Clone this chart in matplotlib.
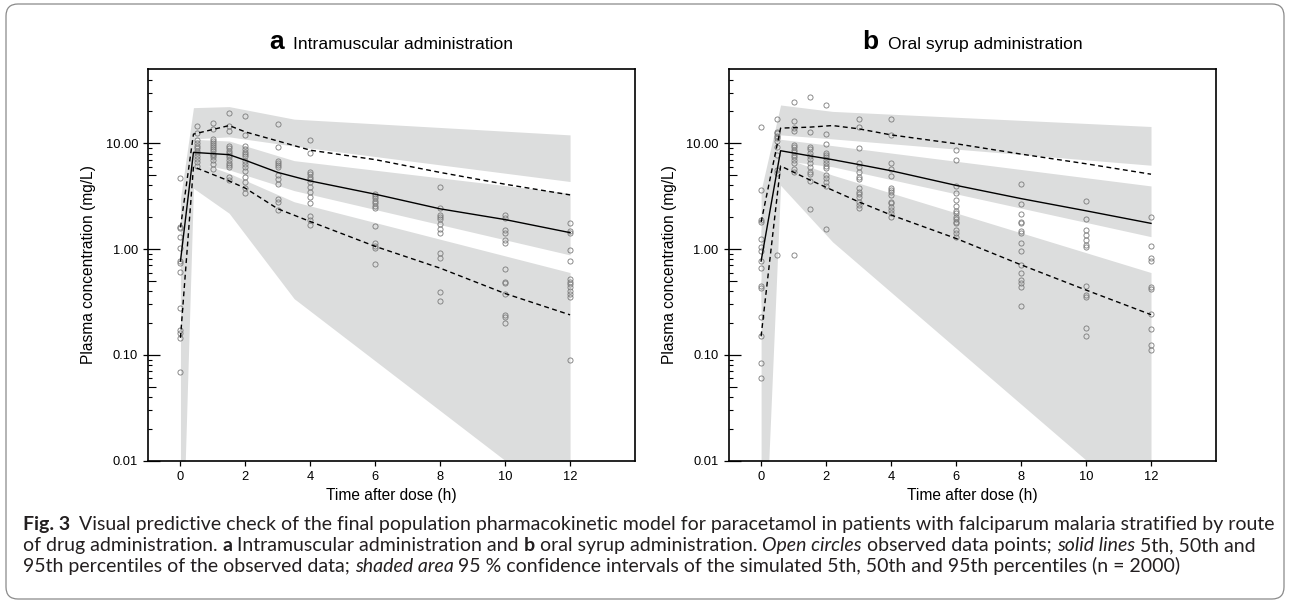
import numpy as np
import matplotlib.pyplot as plt
from matplotlib.patches import FancyBboxPatch
from matplotlib.transforms import IdentityTransform
from matplotlib.ticker import FixedLocator, NullFormatter, FuncFormatter

plt.rcParams['font.family'] = ['Liberation Sans', 'DejaVu Sans']

# ---------------- data: observed concentrations (mg/L) ----------------
obs_times = [0, 0.5, 1, 1.5, 2, 3, 4, 6, 8, 10, 12]

im_obs = [
    [4.74, 1.63, 1.57, 1.31, 1.03, 0.77, 0.745, 0.61, 0.276, 0.172, 0.16, 0.144, 0.069],
    [14.7, 12.6, 10.75, 10.0, 9.4, 8.97, 8.5, 8.05, 7.6, 7.16, 6.7, 6.1],
    [15.7, 13.6, 11.0, 10.5, 10.0, 9.6, 9.2, 8.8, 8.4, 8.0, 7.7, 7.4, 6.95, 6.4, 5.76],
    [19.5, 14.7, 13.2, 9.4, 9.0, 8.5, 8.16, 7.76, 7.37, 6.95, 6.57, 6.24, 5.93, 4.84, 4.5],
    [18.1, 12.0, 9.5, 8.9, 8.3, 7.9, 7.5, 6.86, 6.4, 5.93, 5.5, 4.84, 4.35, 3.76, 3.37],
    [15.2, 9.2, 6.86, 6.47, 6.2, 5.93, 5.0, 4.57, 4.13, 2.96, 2.8, 2.34],
    [10.75, 8.16, 5.32, 5.1, 4.84, 4.6, 4.35, 3.9, 3.5, 3.1, 2.75, 2.07, 1.89, 1.69],
    [3.33, 3.18, 3.02, 2.87, 2.71, 2.56, 2.42, 1.67, 1.15, 1.06, 1.02, 0.72],
    [3.9, 2.46, 2.1, 2.03, 1.91, 1.73, 1.54, 1.43, 0.91, 0.82, 0.39, 0.325],
    [2.1, 1.95, 1.5, 1.41, 1.22, 1.15, 0.65, 0.49, 0.48, 0.38, 0.24, 0.23, 0.20],
    [1.75, 1.49, 1.43, 0.97, 0.77, 0.52, 0.49, 0.47, 0.435, 0.40, 0.38, 0.35, 0.089],
]

oral_obs = [
    [14.4, 3.62, 1.89, 1.82, 1.24, 1.04, 0.96, 0.77, 0.66, 0.45, 0.43, 0.227, 0.151, 0.083, 0.06],
    [16.9, 12.9, 12.4, 11.7, 11.1, 10.4, 9.2, 7.76, 5.6, 5.2, 0.88],
    [24.6, 16.2, 14.0, 13.1, 9.6, 9.2, 8.6, 8.2, 7.76, 7.37, 6.96, 6.47, 5.73, 5.3, 0.87],
    [27.6, 12.9, 9.2, 8.8, 8.16, 7.6, 7.06, 6.47, 5.93, 5.4, 5.1, 4.4, 2.38],
    [22.9, 12.3, 9.86, 8.16, 7.76, 7.37, 6.96, 6.47, 6.1, 5.8, 5.0, 4.68, 4.35, 3.95, 1.54],
    [16.9, 14.4, 8.97, 6.47, 5.93, 5.3, 4.84, 4.57, 3.76, 3.5, 3.33, 3.13, 2.8, 2.6, 2.42],
    [16.9, 11.9, 6.57, 5.73, 4.9, 3.76, 3.62, 3.5, 3.25, 2.8, 2.71, 2.52, 2.34, 2.18, 2.03],
    [8.65, 6.96, 3.95, 3.42, 2.92, 2.56, 2.31, 2.18, 2.03, 1.91, 1.82, 1.75, 1.52, 1.43, 1.31],
    [4.1, 2.65, 2.15, 1.82, 1.78, 1.47, 1.41, 1.14, 0.95, 0.71, 0.59, 0.51, 0.48, 0.44, 0.29],
    [2.87, 1.91, 1.52, 1.37, 1.22, 1.10, 1.04, 0.45, 0.37, 0.35, 0.18, 0.15],
    [2.0, 1.08, 0.82, 0.77, 0.44, 0.42, 0.245, 0.176, 0.124, 0.112],
]

# ---------------- observed percentiles ----------------
im_line_t = [0, 0.4, 1.5, 2, 3, 4, 6, 8, 10, 12]
im_p50 = [0.77, 8.2, 7.8, 6.9, 5.3, 4.4, 3.3, 2.4, 1.9, 1.43]
im_p95 = [1.6, 12.2, 14.7, 12.8, 10.5, 8.6, 7.0, 5.3, 4.1, 3.25]
im_p5 = [0.145, 6.0, 4.4, 3.76, 2.4, 1.82, 1.06, 0.66, 0.38, 0.239]

oral_line_t = [0, 0.6, 1.5, 2.2, 3, 4, 6, 8, 10, 12]
oral_p50 = [0.77, 8.5, 7.6, 7.0, 6.3, 5.5, 4.0, 3.0, 2.3, 1.75]
oral_p95 = [1.8, 13.9, 14.2, 14.7, 13.7, 12.0, 9.9, 7.9, 6.4, 5.1]
oral_p5 = [0.15, 6.1, 4.5, 3.6, 2.8, 2.1, 1.26, 0.71, 0.41, 0.24]

# ---------------- simulated 95% CIs ----------------
im_band_t = [0, 0.4, 1.5, 3.5, 12]
im_ci95_hi = [3.0, 21.7, 22.2, 16.9, 12.0]
im_ci95_lo = [1.0, 11.0, 11.5, 9.4, 4.35]
im_ci50_hi = [1.5, 10.9, 10.5, 6.85, 3.37]
im_ci50_lo = [0.3, 6.5, 5.6, 3.57, 0.88]
im_ci5_hi = [0.5, 6.9, 5.2, 2.8, 0.6]
im_ci5_lo = [0.0003, 3.76, 2.18, 0.34, 0.0034]

oral_band_t = [0, 0.6, 2.2, 12]
oral_ci95_hi = [3.6, 23.0, 20.0, 14.4]
oral_ci95_lo = [1.0, 12.0, 11.0, 6.2]
oral_ci50_hi = [1.5, 10.9, 9.5, 3.95]
oral_ci50_lo = [0.3, 6.9, 6.0, 1.31]
oral_ci5_hi = [0.5, 7.5, 5.0, 0.6]
oral_ci5_lo = [0.0002, 4.0, 1.17, 0.003]

x_ticks = [0, 2, 4, 6, 8, 10, 12]
y_ticks = [0.01, 0.1, 1, 10]

# ---------------- figure ----------------
W, H = 1290, 602
fig = plt.figure(figsize=(W / 100, H / 100), dpi=100)
renderer = fig.canvas.get_renderer()

BAND = '#dcdddd'
PX = 72 / 100  # points per pixel


def axes_at(x0, y0, x1, y1):
    return fig.add_axes([x0 / W, 1 - y1 / H, (x1 - x0) / W, (y1 - y0) / H])


def draw_panel(ax, obs, line_t, p5, p50, p95, band_t, bands):
    for lo, hi in bands:
        ax.fill_between(band_t, lo, hi, color=BAND, lw=0, zorder=1)
    xs = np.concatenate([[t] * len(v) for t, v in zip(obs_times, obs)])
    ys = np.concatenate(obs)
    ax.plot(xs, ys, 'o', ms=3.7, mfc='none', mec='#7a7a7a', mew=0.6, zorder=3)
    ax.plot(line_t, p50, color='black', lw=1.0, zorder=4)
    ax.plot(line_t, p95, color='black', lw=1.0, ls=(0, (3.5, 2.5)), zorder=4)
    ax.plot(line_t, p5, color='black', lw=1.0, ls=(0, (3.5, 2.5)), zorder=4)

    ax.set_yscale('log')
    ax.set_xlim(-1, 14)
    ax.set_ylim(0.01, 50)
    ax.set_xticks(x_ticks)
    ax.yaxis.set_major_locator(FixedLocator(y_ticks))
    ax.yaxis.set_major_formatter(FuncFormatter(lambda v, p: f'{v:.2f}'))
    minors = [m * 10.0 ** e for e in range(-2, 2) for m in (2, 3, 4, 6, 7, 8, 9) if m * 10.0 ** e < 50]
    ax.yaxis.set_minor_locator(FixedLocator(minors))
    ax.yaxis.set_minor_formatter(NullFormatter())
    ax.tick_params(which='major', direction='out', length=5 * PX, width=0.9,
                   labelsize=9.3, pad=3.5)
    ax.tick_params(axis='y', which='minor', direction='in', length=4 * PX, width=0.8)
    for s in ax.spines.values():
        s.set_linewidth(1.2)

    # inward parts of the major ticks and the medium ticks at 5s
    sec = ax.secondary_yaxis('left')
    sec.yaxis.set_major_locator(FixedLocator(y_ticks))
    sec.yaxis.set_minor_locator(FixedLocator([0.05, 0.5, 5]))
    sec.yaxis.set_major_formatter(NullFormatter())
    sec.yaxis.set_minor_formatter(NullFormatter())
    sec.tick_params(which='major', direction='in', length=12 * PX, width=0.9)
    sec.tick_params(which='minor', direction='in', length=8 * PX, width=0.8)
    sec.spines['left'].set_visible(False)

    ax.set_xlabel('Time after dose (h)', fontsize=11.2, labelpad=4)
    ax.set_ylabel('Plasma concentration (mg/L)', fontsize=11.2, labelpad=7)


ax_a = axes_at(148, 69.3, 635, 460.7)
draw_panel(ax_a, im_obs, im_line_t, im_p5, im_p50, im_p95, im_band_t,
           [(im_ci95_lo, im_ci95_hi), (im_ci50_lo, im_ci50_hi), (im_ci5_lo, im_ci5_hi)])

ax_b = axes_at(728.6, 69.3, 1216, 460.7)
draw_panel(ax_b, oral_obs, oral_line_t, oral_p5, oral_p50, oral_p95, oral_band_t,
           [(oral_ci95_lo, oral_ci95_hi), (oral_ci50_lo, oral_ci50_hi), (oral_ci5_lo, oral_ci5_hi)])


# ---------------- text helpers ----------------
def width_of(s, **kw):
    t = fig.text(0, 0, s, **kw)
    w = t.get_window_extent(renderer).width
    t.remove()
    return w


def put_runs(x, y, runs, **base):
    """runs: (text, weight, style, gap_px_after)"""
    for s, weight, style, gap in runs:
        kw = dict(base, weight=weight, style=style)
        fig.text(x / W, 1 - y / H, s, va='baseline', ha='left', **kw)
        x += width_of(s, **kw) + gap


# panel titles
for ax, letter, label in [(ax_a, 'a', 'Intramuscular administration'),
                          (ax_b, 'b', 'Oral syrup administration')]:
    bb = ax.get_window_extent(renderer)
    cx = (bb.x0 + bb.x1) / 2
    wl = width_of(letter, fontsize=19, weight='bold')
    wt = width_of(label, fontsize=12.6)
    gap = 9
    x0 = cx - (wl + gap + wt) / 2
    fig.text(x0 / W, 1 - 49 / H, letter, fontsize=19, weight='bold', va='baseline')
    fig.text((x0 + wl + gap) / W, 1 - 49 / H, label, fontsize=12.6, va='baseline')

# caption
cap_font = ['Lato', 'DejaVu Sans']
CAP = '#231f20'
line1 = [('Fig. 3', 'bold', 'normal', 9),
         ('Visual predictive check of the final population pharmacokinetic model for paracetamol '
          'in patients with falciparum malaria stratified by route', 'normal', 'normal', 0)]
w10 = sum(width_of(s, fontsize=10, weight=wt, style=st, family=cap_font) for s, wt, st, g in line1)
cap_fs = 10 * (1248 - 9) / w10

sp = width_of('a a', fontsize=cap_fs, family=cap_font) - width_of('aa', fontsize=cap_fs, family=cap_font)
line2 = [('of drug administration.', 'normal', 'normal', sp),
         ('a', 'bold', 'normal', sp),
         ('Intramuscular administration and', 'normal', 'normal', sp),
         ('b', 'bold', 'normal', sp),
         ('oral syrup administration.', 'normal', 'normal', sp),
         ('Open circles', 'normal', 'italic', sp),
         ('observed data points;', 'normal', 'normal', sp),
         ('solid lines', 'normal', 'italic', sp),
         ('5th, 50th and', 'normal', 'normal', 0)]
line3 = [('95th percentiles of the observed data;', 'normal', 'normal', sp),
         ('shaded area', 'normal', 'italic', sp),
         ('95 % confidence intervals of the simulated 5th, 50th and 95th percentiles (n = 2000)',
          'normal', 'normal', 0)]

for y, runs in [(530, line1), (551, line2), (572, line3)]:
    put_runs(22.7, y, runs, fontsize=cap_fs, family=cap_font, color=CAP)

# rounded frame around the figure
frame = FancyBboxPatch((6, 3), 1278, 595, boxstyle='round,pad=0,rounding_size=12',
                       transform=IdentityTransform(), fill=False, ec='#8a8a8a', lw=0.9)
fig.add_artist(frame)

fig.savefig('out.png', dpi=100)
